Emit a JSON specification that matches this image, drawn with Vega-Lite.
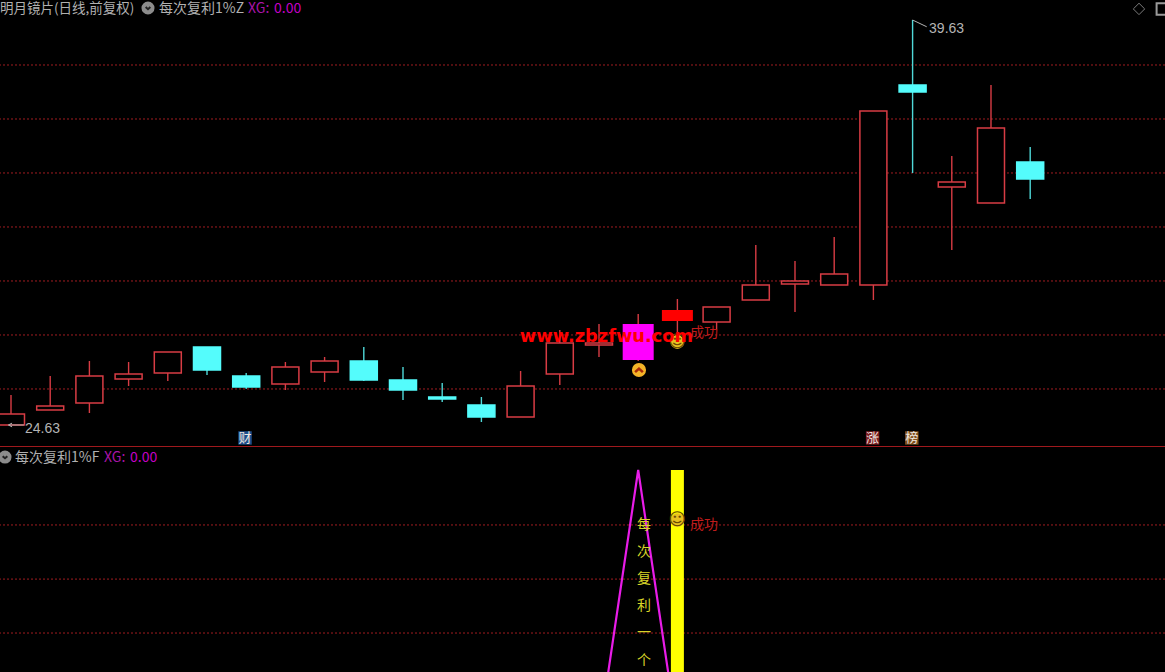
{
"$schema":"https://vega.github.io/schema/vega-lite/v6.json",
"background":"#000000","padding":0,"spacing":0,"bounds":"flush",
"config":{"view":{"stroke":null},"concat":{"spacing":0}},
"datasets":{
"candles":[
{"i":0,"high":25.741,"low":24.63,"open":24.63,"close":25.037,"kind":"up"},
{"i":1,"high":26.445,"low":25.185,"open":25.185,"close":25.334,"kind":"up"},
{"i":2,"high":27.0,"low":25.074,"open":25.445,"close":26.445,"kind":"up"},
{"i":3,"high":26.963,"low":26.075,"open":26.334,"close":26.519,"kind":"up"},
{"i":4,"high":27.334,"low":26.26,"open":26.556,"close":27.334,"kind":"up"},
{"i":5,"high":27.519,"low":26.482,"open":27.519,"close":26.667,"kind":"down"},
{"i":6,"high":26.556,"low":25.964,"open":26.445,"close":26.038,"kind":"down"},
{"i":7,"high":26.963,"low":25.927,"open":26.149,"close":26.778,"kind":"up"},
{"i":8,"high":27.149,"low":26.223,"open":26.593,"close":27.0,"kind":"up"},
{"i":9,"high":27.519,"low":26.26,"open":27.0,"close":26.297,"kind":"down"},
{"i":10,"high":26.778,"low":25.556,"open":26.297,"close":25.927,"kind":"down"},
{"i":11,"high":26.186,"low":25.482,"open":25.667,"close":25.593,"kind":"down"},
{"i":12,"high":25.667,"low":24.741,"open":25.371,"close":24.926,"kind":"down"},
{"i":13,"high":26.63,"low":24.926,"open":24.926,"close":26.075,"kind":"up"},
{"i":14,"high":28.149,"low":26.112,"open":26.519,"close":27.667,"kind":"up"},
{"i":15,"high":28.371,"low":27.149,"open":27.593,"close":27.667,"kind":"up"},
{"i":16,"high":28.741,"low":27.0,"open":27.038,"close":28.371,"kind":"signal"},
{"i":17,"high":29.297,"low":28.075,"open":28.482,"close":28.89,"kind":"buy"},
{"i":18,"high":29.0,"low":28.186,"open":28.445,"close":29.0,"kind":"up"},
{"i":19,"high":31.297,"low":29.26,"open":29.26,"close":29.816,"kind":"up"},
{"i":20,"high":30.704,"low":28.815,"open":29.853,"close":29.964,"kind":"up"},
{"i":21,"high":31.593,"low":29.816,"open":29.816,"close":30.223,"kind":"up"},
{"i":22,"high":36.26,"low":29.26,"open":29.816,"close":36.26,"kind":"up"},
{"i":23,"high":39.63,"low":33.964,"open":37.223,"close":36.964,"kind":"down"},
{"i":24,"high":34.593,"low":31.112,"open":33.445,"close":33.63,"kind":"up"},
{"i":25,"high":37.223,"low":32.852,"open":32.852,"close":35.63,"kind":"up"},
{"i":26,"high":34.927,"low":33.0,"open":34.371,"close":33.741,"kind":"down"}
],
"badges":[
{"i":5.97,"p":24.15,"t":"财","k":"fin"},
{"i":21.98,"p":24.15,"t":"涨","k":"rise"},
{"i":22.98,"p":24.15,"t":"榜","k":"list"}
],
"headTop":[
{"i":3.776,"p":40.04,"t":"每次复利1%Z","k":"name"},
{"i":6.046,"p":40.04,"t":"XG:","k":"xg"},
{"i":6.71,"p":40.04,"t":"0.00","k":"val"}
],
"headBottom":[
{"i":0.102,"v":105.9,"t":"每次复利1%F","k":"name"},
{"i":2.372,"v":105.9,"t":"XG:","k":"xg"},
{"i":3.036,"v":105.9,"t":"0.00","k":"val"}
]
},
"vconcat":[
{"width":1165,"height":447,
"resolve":{"scale":{"color":"independent","fill":"independent","stroke":"independent"}},
"encoding":{"x":{"field":"i","type":"quantitative","axis":null,"scale":{"domain":[-0.2806,29.439],"nice":false,"zero":false,"padding":0}}},
"layer":[
{"data":{"values":[{"p":25.964},{"p":27.964},{"p":29.964},{"p":31.964},{"p":33.964},{"p":35.964},{"p":37.964}]},"mark":{"type":"rule","color":"#a01c20","strokeWidth":1,"strokeDash":[2,2],"clip":true},
 "encoding":{"x":null,"y":{"field":"p","type":"quantitative","axis":null,"scale":{"domain":[23.815,40.371],"nice":false,"zero":false}}}},
{"data":{"values":[{"p":23.83}]},"mark":{"type":"rule","color":"#b01c20","strokeWidth":1,"clip":true},
 "encoding":{"x":null,"y":{"field":"p","type":"quantitative"}}},
{"data":{"name":"candles"},"mark":{"type":"rule","strokeWidth":1.4,"clip":true},
 "encoding":{"y":{"field":"high","type":"quantitative"},"y2":{"field":"low"},
 "color":{"field":"kind","type":"nominal","legend":null,"scale":{"domain":["up","down","signal","buy"],"range":["#d83c44","#4fd8d8","#d83c44","#d83c44"]}}}},
{"data":{"name":"candles"},"transform":[{"filter":"datum.kind=='up'||datum.kind=='down'"}],"mark":{"type":"bar","size":27,"strokeWidth":1.5,"clip":true},
 "encoding":{"y":{"field":"open","type":"quantitative"},"y2":{"field":"close"},
 "fill":{"field":"kind","type":"nominal","legend":null,"scale":{"domain":["up","down"],"range":["#000000","#54fcfc"]}},
 "stroke":{"field":"kind","type":"nominal","legend":null,"scale":{"domain":["up","down"],"range":["#d83c44","#54fcfc"]}}}},
{"data":{"name":"candles"},"transform":[{"filter":"datum.kind=='signal'"}],"mark":{"type":"bar","size":31,"color":"#ff00ff"},
 "encoding":{"y":{"field":"open","type":"quantitative"},"y2":{"field":"close"}}},
{"data":{"name":"candles"},"transform":[{"filter":"datum.kind=='buy'"}],"mark":{"type":"bar","size":31,"color":"#ff0000"},
 "encoding":{"y":{"field":"open","type":"quantitative"},"y2":{"field":"close"}}},
{"data":{"values":[{"g":"a","i":0.33,"p":24.63},{"g":"a","i":-0.03,"p":24.63},{"g":"b","i":23.0,"p":39.63},{"g":"b","i":23.36,"p":39.38}]},
 "mark":{"type":"line","color":"#b4b4b4","strokeWidth":1},
 "encoding":{"y":{"field":"p","type":"quantitative"},"detail":{"field":"g"}}},
{"data":{"values":[{"i":-0.02,"p":24.63}]},"mark":{"type":"point","shape":"M1,-1L-1,0L1,1","filled":false,"size":14,"color":"#b4b4b4","strokeWidth":1,"opacity":1,"clip":true},
 "encoding":{"y":{"field":"p","type":"quantitative"}}},
{"data":{"values":[{"i":0.357,"p":24.5,"t":"24.63"},{"i":23.42,"p":39.3,"t":"39.63"}]},"mark":{"type":"text","align":"left","baseline":"middle","font":"Liberation Sans","fontSize":14,"color":"#b4b4b4"},
 "encoding":{"y":{"field":"p","type":"quantitative"},"text":{"field":"t"}}},
{"data":{"values":[{"i":16.02,"p":26.667}]},"mark":{"type":"point","shape":"circle","filled":true,"size":200,"opacity":1,"color":"#f4b428"},
 "encoding":{"y":{"field":"p","type":"quantitative"}}},
{"data":{"values":[{"i":16.02,"p":26.667}]},"mark":{"type":"point","shape":"M-1,0.55L0,-0.35L1,0.55","size":60,"filled":false,"color":"#a82808","strokeWidth":2.6,"opacity":1},
 "encoding":{"y":{"field":"p","type":"quantitative"}}},
{"data":{"values":[{"i":17,"p":27.704}]},"mark":{"type":"point","shape":"circle","filled":true,"size":190,"color":"#e8c020","opacity":1},
 "encoding":{"y":{"field":"p","type":"quantitative"}}},
{"data":{"values":[{"i":17,"p":27.704,"t":"☺"}]},"mark":{"type":"text","align":"center","baseline":"middle","font":"DejaVu Sans","fontSize":17,"color":"#6a4a00"},
 "encoding":{"y":{"field":"p","type":"quantitative"},"text":{"field":"t"}}},
{"data":{"values":[{"i":15.19,"p":27.89,"t":"www.zbzfwu.com"}]},"mark":{"type":"text","align":"center","baseline":"middle","font":"DejaVu Sans","fontWeight":"bold","fontSize":17.8,"color":"#ff0000"},
 "encoding":{"y":{"field":"p","type":"quantitative"},"text":{"field":"t"}}},
{"data":{"values":[{"i":17.32,"p":28.04,"t":"成功"}]},"mark":{"type":"text","align":"left","baseline":"middle","font":"Noto Sans CJK SC","fontSize":14,"color":"#c01c1c"},
 "encoding":{"y":{"field":"p","type":"quantitative"},"text":{"field":"t"}}},
{"data":{"name":"badges"},"mark":{"type":"point","shape":"square","filled":true,"size":180,"opacity":1},
 "encoding":{"y":{"field":"p","type":"quantitative"},
 "color":{"field":"k","type":"nominal","legend":null,"scale":{"domain":["fin","rise","list"],"range":["#1d4f8c","#7c1c20","#80501c"]}}}},
{"data":{"name":"badges"},"mark":{"type":"text","align":"center","baseline":"middle","font":"Noto Sans CJK SC","fontSize":13,"color":"#f0e8e0"},
 "encoding":{"y":{"field":"p","type":"quantitative"},"text":{"field":"t"}}},
{"data":{"values":[{"i":-0.28,"p":40.04,"t":"明月镜片(日线,前复权)"}]},"mark":{"type":"text","align":"left","baseline":"middle","font":"Noto Sans CJK SC","fontSize":13.5,"color":"#b0b0b0"},
 "encoding":{"y":{"field":"p","type":"quantitative"},"text":{"field":"t"}}},
{"data":{"name":"headTop"},"mark":{"type":"text","align":"left","baseline":"middle","font":"Noto Sans CJK SC","fontSize":14},
 "encoding":{"y":{"field":"p","type":"quantitative"},"text":{"field":"t"},
 "color":{"field":"k","type":"nominal","legend":null,"scale":{"domain":["name","xg","val"],"range":["#b0b0b0","#a814a8","#c400c4"]}}}},
{"data":{"values":[{"i":3.495,"p":40.075}]},"mark":{"type":"point","shape":"circle","filled":true,"size":170,"color":"#8c8c8c","opacity":1,"clip":true},
 "encoding":{"y":{"field":"p","type":"quantitative"}}},
{"data":{"values":[{"i":3.495,"p":40.075}]},"mark":{"type":"point","shape":"M-1,-0.4L0,0.5L1,-0.4","size":22,"filled":false,"color":"#222222","strokeWidth":2,"opacity":1},
 "encoding":{"y":{"field":"p","type":"quantitative"}}},
{"data":{"values":[{"i":28.776,"p":40.04}]},"mark":{"type":"point","shape":"diamond","filled":false,"size":130,"color":"#7c7c7c","strokeWidth":1,"opacity":1,"clip":true},
 "encoding":{"y":{"field":"p","type":"quantitative"}}},
{"data":{"values":[{"i":29.37,"p":40.04}]},"mark":{"type":"point","shape":"square","filled":false,"size":130,"color":"#9a9a9a","strokeWidth":2,"opacity":1,"clip":true},
 "encoding":{"y":{"field":"p","type":"quantitative"}}}
]},
{"width":1165,"height":225,
"resolve":{"scale":{"color":"independent"}},
"encoding":{"x":{"field":"i","type":"quantitative","axis":null,"scale":{"domain":[-0.2806,29.439],"nice":false,"zero":false,"padding":0}}},
"layer":[
{"data":{"values":[{"v":19.3},{"v":46},{"v":72.8}]},"mark":{"type":"rule","color":"#a01c20","strokeWidth":1,"strokeDash":[2,2],"clip":true},
 "encoding":{"x":null,"y":{"field":"v","type":"quantitative","axis":null,"scale":{"domain":[0,111.4],"nice":false,"zero":false}}}},
{"data":{"values":[{"i":15,"v":-31},{"i":16,"v":100},{"i":17,"v":-31}]},"mark":{"type":"line","color":"#e81ce8","strokeWidth":2.2,"clip":true},
 "encoding":{"y":{"field":"v","type":"quantitative"}}},
{"data":{"values":[{"i":17,"v":0,"top":100}]},"mark":{"type":"bar","size":13,"color":"#ffff00","clip":true},
 "encoding":{"y":{"field":"v","type":"quantitative"},"y2":{"field":"top"}}},
{"data":{"values":[{"i":17,"v":75.2}]},"mark":{"type":"point","shape":"circle","filled":true,"size":190,"color":"#e8c020","opacity":1},
 "encoding":{"y":{"field":"v","type":"quantitative"}}},
{"data":{"values":[{"i":17,"v":75.2,"t":"☺"}]},"mark":{"type":"text","align":"center","baseline":"middle","font":"DejaVu Sans","fontSize":17,"color":"#6a4a00"},
 "encoding":{"y":{"field":"v","type":"quantitative"},"text":{"field":"t"}}},
{"data":{"values":[{"i":17.32,"v":72.8,"t":"成功"}]},"mark":{"type":"text","align":"left","baseline":"middle","font":"Noto Sans CJK SC","fontSize":14,"color":"#c01c1c"},
 "encoding":{"y":{"field":"v","type":"quantitative"},"text":{"field":"t"}}},
{"data":{"values":[{"i":16.148,"v":72.8,"t":"每"},{"i":16.148,"v":59.4,"t":"次"},{"i":16.148,"v":46,"t":"复"},{"i":16.148,"v":32.7,"t":"利"},{"i":16.148,"v":19.3,"t":"一"},{"i":16.148,"v":5.44,"t":"个"}]},"mark":{"type":"text","align":"center","baseline":"middle","font":"Noto Sans CJK SC","fontSize":14,"color":"#d8d428","clip":true},
 "encoding":{"y":{"field":"v","type":"quantitative"},"text":{"field":"t"}}},
{"data":{"name":"headBottom"},"mark":{"type":"text","align":"left","baseline":"middle","font":"Noto Sans CJK SC","fontSize":14},
 "encoding":{"y":{"field":"v","type":"quantitative"},"text":{"field":"t"},
 "color":{"field":"k","type":"nominal","legend":null,"scale":{"domain":["name","xg","val"],"range":["#b0b0b0","#a814a8","#c400c4"]}}}},
{"data":{"values":[{"i":-0.153,"v":106.4}]},"mark":{"type":"point","shape":"circle","filled":true,"size":170,"color":"#8c8c8c","opacity":1,"clip":true},
 "encoding":{"y":{"field":"v","type":"quantitative"}}},
{"data":{"values":[{"i":-0.153,"v":106.4}]},"mark":{"type":"point","shape":"M-1,-0.4L0,0.5L1,-0.4","size":22,"filled":false,"color":"#222222","strokeWidth":2,"opacity":1,"clip":true},
 "encoding":{"y":{"field":"v","type":"quantitative"}}}
]}
]}
